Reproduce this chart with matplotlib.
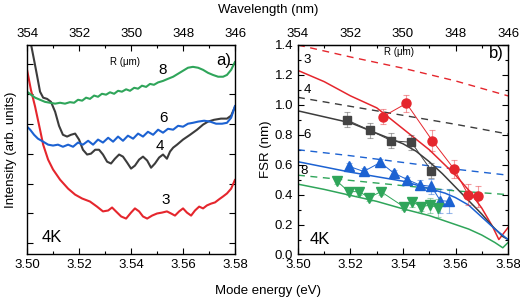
import numpy as np
import matplotlib
matplotlib.use("Agg")
import matplotlib.pyplot as plt
from matplotlib.ticker import MultipleLocator, NullFormatter

plt.rcParams['font.family'] = ['Liberation Sans', 'DejaVu Sans']

# ---------------- panel a) : PL spectra ----------------
e_r3 = [3.5000, 3.5015, 3.5031, 3.5050, 3.5062, 3.5081, 3.5100, 3.5127, 3.5158, 3.5185,
        3.5212, 3.5242, 3.5269, 3.5292, 3.5312, 3.5327, 3.5342, 3.5362, 3.5381, 3.5400,
        3.5415, 3.5431, 3.5446, 3.5462, 3.5481, 3.5500, 3.5519, 3.5538, 3.5554, 3.5569,
        3.5585, 3.5600, 3.5615, 3.5631, 3.5646, 3.5662, 3.5677, 3.5692, 3.5708, 3.5723,
        3.5738, 3.5754, 3.5769, 3.5785, 3.5800]
i_r3 = [5.80, 5.13, 4.57, 3.80, 3.30, 2.80, 2.47, 2.13, 1.83, 1.63,
        1.50, 1.40, 1.23, 1.07, 1.10, 1.20, 1.07, 0.90, 0.83, 1.03,
        1.17, 1.07, 0.90, 0.83, 0.93, 1.00, 1.03, 1.07, 1.00, 0.93,
        1.07, 1.17, 1.03, 0.93, 1.10, 1.23, 1.17, 1.27, 1.33, 1.37,
        1.47, 1.57, 1.67, 1.83, 2.13]

e_r4 = [3.5012, 3.5027, 3.5038, 3.5050, 3.5062, 3.5077, 3.5092, 3.5108, 3.5123, 3.5138,
        3.5154, 3.5169, 3.5185, 3.5200, 3.5215, 3.5231, 3.5246, 3.5262, 3.5277, 3.5292,
        3.5308, 3.5323, 3.5338, 3.5354, 3.5369, 3.5385, 3.5400, 3.5415, 3.5431, 3.5446,
        3.5462, 3.5477, 3.5492, 3.5508, 3.5523, 3.5538, 3.5550, 3.5562, 3.5577, 3.5600,
        3.5627, 3.5654, 3.5677, 3.5696, 3.5719, 3.5746, 3.5769, 3.5785, 3.5800]
i_r4 = [6.80, 6.13, 5.63, 5.07, 4.87, 4.83, 4.73, 4.40, 3.93, 3.63,
        3.57, 3.63, 3.67, 3.47, 3.13, 2.97, 3.00, 3.13, 3.13, 2.97,
        2.73, 2.67, 2.83, 2.97, 2.90, 2.70, 2.50, 2.60, 2.80, 2.90,
        2.77, 2.53, 2.67, 2.87, 2.97, 2.83, 3.07, 3.20, 3.30, 3.47,
        3.63, 3.80, 3.97, 4.07, 4.13, 4.17, 4.17, 4.27, 4.57]

e_r6 = [3.5000, 3.5012, 3.5027, 3.5042, 3.5062, 3.5081, 3.5100, 3.5119, 3.5138, 3.5158,
        3.5177, 3.5196, 3.5215, 3.5235, 3.5254, 3.5273, 3.5292, 3.5312, 3.5331, 3.5350,
        3.5369, 3.5388, 3.5408, 3.5427, 3.5446, 3.5465, 3.5485, 3.5504, 3.5523, 3.5542,
        3.5562, 3.5581, 3.5600, 3.5619, 3.5638, 3.5658, 3.5681, 3.5704, 3.5727, 3.5750,
        3.5769, 3.5785, 3.5800]
i_r6 = [3.90, 3.80, 3.63, 3.50, 3.40, 3.30, 3.27, 3.30, 3.23, 3.30,
        3.23, 3.37, 3.30, 3.43, 3.30, 3.47, 3.37, 3.53, 3.40, 3.57,
        3.43, 3.60, 3.50, 3.67, 3.57, 3.73, 3.63, 3.80, 3.70, 3.83,
        3.80, 3.93, 3.90, 4.00, 4.03, 4.07, 4.10, 4.07, 4.00, 4.00,
        4.03, 4.20, 4.60]

e_r8 = [3.5000, 3.5015, 3.5031, 3.5050, 3.5069, 3.5088, 3.5108, 3.5127, 3.5146, 3.5165,
        3.5181, 3.5196, 3.5212, 3.5227, 3.5242, 3.5258, 3.5273, 3.5288, 3.5304, 3.5319,
        3.5335, 3.5350, 3.5365, 3.5381, 3.5396, 3.5412, 3.5427, 3.5442, 3.5458, 3.5473,
        3.5488, 3.5504, 3.5523, 3.5542, 3.5562, 3.5581, 3.5600, 3.5619, 3.5638, 3.5658,
        3.5677, 3.5696, 3.5715, 3.5735, 3.5754, 3.5769, 3.5785, 3.5800]
i_r8 = [5.07, 4.97, 4.87, 4.80, 4.73, 4.70, 4.67, 4.70, 4.67, 4.72,
        4.70, 4.80, 4.77, 4.87, 4.83, 4.94, 4.90, 5.00, 4.97, 5.05,
        5.00, 5.10, 5.07, 5.15, 5.10, 5.20, 5.17, 5.27, 5.23, 5.33,
        5.30, 5.38, 5.43, 5.50, 5.57, 5.67, 5.77, 5.87, 5.90, 5.87,
        5.80, 5.70, 5.63, 5.57, 5.57, 5.63, 5.80, 6.07]

# ---------------- panel b) : FSR ----------------
# measured FSR (points with error bars)
e_d3 = [3.5322, 3.5413, 3.5512, 3.5595, 3.5648, 3.5686]
f_d3 = [0.92, 1.01, 0.76, 0.57, 0.40, 0.39]
s_d3 = [0.05, 0.055, 0.07, 0.06, 0.07, 0.07]

e_d4 = [3.5186, 3.5273, 3.5356, 3.5432, 3.5508]
f_d4 = [0.90, 0.83, 0.76, 0.75, 0.56]
s_d4 = [0.05, 0.05, 0.05, 0.05, 0.05]

e_d6 = [3.5193, 3.5250, 3.5314, 3.5364, 3.5417, 3.5463, 3.5508, 3.5542, 3.5576]
f_d6 = [0.59, 0.555, 0.615, 0.545, 0.50, 0.465, 0.455, 0.36, 0.355]
s_d6 = [0.02, 0.02, 0.02, 0.02, 0.02, 0.03, 0.05, 0.08, 0.08]

e_d8 = [3.5149, 3.5193, 3.5233, 3.5271, 3.5316, 3.5402, 3.5436, 3.5470, 3.5504, 3.5535]
f_d8 = [0.49, 0.42, 0.42, 0.38, 0.42, 0.32, 0.35, 0.32, 0.33, 0.31]
s_d8 = [0.02, 0.02, 0.02, 0.02, 0.02, 0.02, 0.03, 0.03, 0.05, 0.06]

# model curves (solid)
e_m3 = [3.500, 3.510, 3.520, 3.530, 3.540, 3.550, 3.560, 3.565, 3.570, 3.574, 3.5765, 3.580]
f_m3 = [1.23, 1.155, 1.06, 0.98, 0.84, 0.70, 0.53, 0.43, 0.31, 0.19, 0.10, 0.18]
e_m4 = [3.500, 3.510, 3.520, 3.530, 3.540, 3.545, 3.550, 3.555, 3.560, 3.565, 3.570, 3.574, 3.578, 3.580]
f_m4 = [0.96, 0.92, 0.88, 0.81, 0.74, 0.69, 0.62, 0.54, 0.45, 0.36, 0.27, 0.19, 0.12, 0.10]
e_m6 = [3.500, 3.510, 3.520, 3.530, 3.540, 3.550, 3.556, 3.560, 3.565, 3.570, 3.575, 3.580]
f_m6 = [0.62, 0.585, 0.55, 0.52, 0.49, 0.44, 0.41, 0.38, 0.33, 0.25, 0.17, 0.10]
e_m8 = [3.500, 3.510, 3.520, 3.530, 3.540, 3.550, 3.560, 3.565, 3.570, 3.575, 3.578, 3.580]
f_m8 = [0.47, 0.435, 0.395, 0.355, 0.305, 0.26, 0.20, 0.17, 0.13, 0.08, 0.045, 0.08]

# dashed curves
e_dash = [3.50, 3.52, 3.54, 3.56, 3.58]
f_dash3 = [1.40, 1.32, 1.245, 1.16, 1.06]
f_dash4 = [1.05, 0.99, 0.93, 0.87, 0.805]
f_dash6 = [0.70, 0.66, 0.615, 0.57, 0.53]
f_dash8 = [0.53, 0.495, 0.46, 0.425, 0.40]

radii = ['3', '4', '6', '8']
c_red = '#e5262d'
c_blk = '#3c3c3c'
c_blu = '#1c62d2'
c_grn = '#2fa55a'


def e2wl(e):
    return 354 - (np.asarray(e) - 3.50) * 100


def wl2e(w):
    return 3.50 + (354 - np.asarray(w)) / 100


def style_axes(ax):
    ax.set_xlim(3.50, 3.58)
    ax.xaxis.set_major_locator(MultipleLocator(0.02))
    ax.xaxis.set_minor_locator(MultipleLocator(0.01))
    ax.tick_params(which='both', direction='in', top=False, right=True, labelsize=9.5)
    ax.tick_params(which='major', length=4, width=0.8)
    ax.tick_params(which='minor', length=2.5, width=0.8)
    for sp in ax.spines.values():
        sp.set_linewidth(1.0)
    sec = ax.secondary_xaxis('top', functions=(e2wl, wl2e))
    sec.set_xticks([354, 352, 350, 348, 346])
    sec.xaxis.set_minor_locator(MultipleLocator(1))
    sec.tick_params(which='both', direction='in', labelsize=9.5)
    sec.tick_params(which='major', length=4, width=0.8)
    sec.tick_params(which='minor', length=2.5, width=0.8)
    return sec


fig = plt.figure(figsize=(5.2, 2.98), dpi=100)
ax1 = fig.add_axes([0.052, 0.146, 0.400, 0.703])
ax2 = fig.add_axes([0.573, 0.146, 0.404, 0.703])

# panel a
kw = dict(lw=1.5, solid_joinstyle='round', solid_capstyle='round')
ax1.plot(e_r3, i_r3, color=c_red, **kw)
ax1.plot(e_r4, i_r4, color=c_blk, **kw)
ax1.plot(e_r6, i_r6, color=c_blu, **kw)
ax1.plot(e_r8, i_r8, color=c_grn, **kw)
ax1.set_ylim(-0.37, 6.63)
ax1.set_yticks(range(7))
ax1.yaxis.set_major_formatter(NullFormatter())
style_axes(ax1)
ax1.set_ylabel('Intensity (arb. units)', fontsize=9.5, labelpad=4)
ax1.text(3.5375, 6.05, 'R (μm)', fontsize=7, ha='center', va='center')
ax1.text(3.5523, 5.8, radii[3], fontsize=11, ha='center', va='center')
ax1.text(3.5523, 4.2, radii[2], fontsize=11, ha='center', va='center')
ax1.text(3.5512, 3.25, radii[1], fontsize=11, ha='center', va='center')
ax1.text(3.5535, 1.45, radii[0], fontsize=11, ha='center', va='center')
ax1.text(3.5755, 6.1, 'a)', fontsize=12, ha='center', va='center')
ax1.text(3.5095, 0.2, '4K', fontsize=12, ha='center', va='center')

# panel b
ax2.plot(e_dash, f_dash3, color=c_red, lw=1.0, ls=(0, (5, 4)))
ax2.plot(e_dash, f_dash4, color=c_blk, lw=1.0, ls=(0, (5, 4)))
ax2.plot(e_dash, f_dash6, color=c_blu, lw=1.0, ls=(0, (5, 4)))
ax2.plot(e_dash, f_dash8, color=c_grn, lw=1.0, ls=(0, (5, 4)))

ax2.plot(e_m3, f_m3, color=c_red, lw=1.1)
ax2.plot(e_m4, f_m4, color=c_blk, lw=1.1)
ax2.plot(e_m6, f_m6, color=c_blu, lw=1.1)
ax2.plot(e_m8, f_m8, color=c_grn, lw=1.1)

for e, f, s, col, mk, ms in [(e_d3, f_d3, s_d3, c_red, 'o', 6.5),
                             (e_d4, f_d4, s_d4, '#444444', 's', 5.5),
                             (e_d6, f_d6, s_d6, c_blu, '^', 6.5),
                             (e_d8, f_d8, s_d8, c_grn, 'v', 6.5)]:
    ax2.errorbar(e, f, yerr=s, fmt='none', ecolor=col, alpha=0.45,
                 elinewidth=0.8, capsize=2, capthick=0.8)
    ax2.plot(e, f, color=col, lw=0.7, marker=mk, ms=ms, mec=col, mfc=col)

ax2.set_ylim(0.0, 1.4)
ax2.yaxis.set_major_locator(MultipleLocator(0.2))
ax2.yaxis.set_minor_locator(MultipleLocator(0.1))
style_axes(ax2)
ax2.set_ylabel('FSR (nm)', fontsize=9.5, labelpad=2)
ax2.text(3.5385, 1.35, 'R (μm)', fontsize=7, ha='center', va='center')
ax2.text(3.5035, 1.30, radii[0], fontsize=9.5, ha='center', va='center')
ax2.text(3.5035, 1.10, radii[1], fontsize=9.5, ha='center', va='center')
ax2.text(3.5035, 0.80, radii[2], fontsize=9.5, ha='center', va='center')
ax2.text(3.5025, 0.56, radii[3], fontsize=9.5, ha='center', va='center')
ax2.text(3.5755, 1.34, 'b)', fontsize=12, ha='center', va='center')
ax2.text(3.5085, 0.10, '4K', fontsize=12, ha='center', va='center')

fig.text(0.515, 0.965, 'Wavelength (nm)', fontsize=9.5, ha='center', va='center')
fig.text(0.515, 0.025, 'Mode energy (eV)', fontsize=9.5, ha='center', va='center')

fig.savefig('out.png', dpi=100)
